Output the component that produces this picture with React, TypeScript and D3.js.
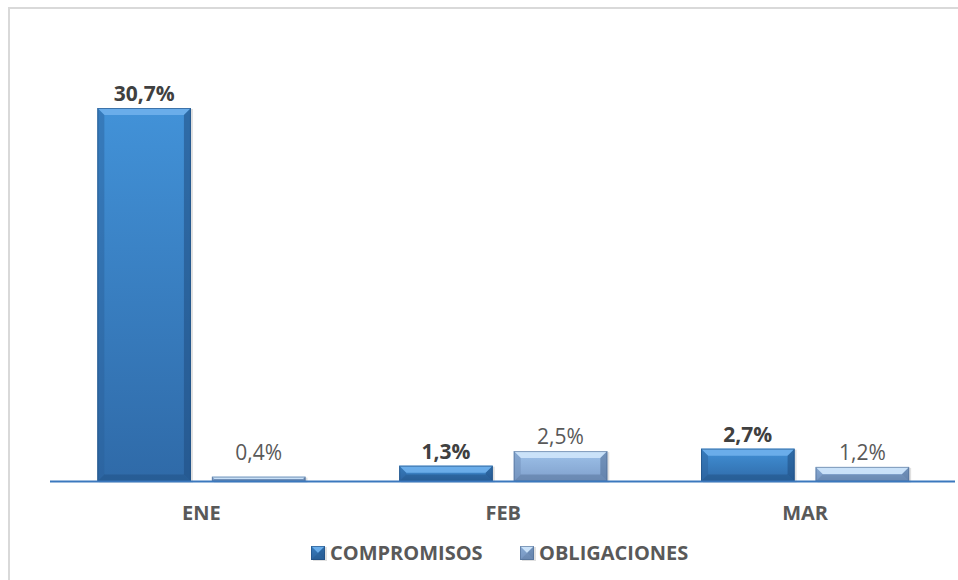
import * as d3 from 'd3';

// chart data
const months = ['ENE', 'FEB', 'MAR'];
const seriesNames = ['COMPROMISOS', 'OBLIGACIONES'];
const compromisos = [30.7, 1.3, 2.7];
const obligaciones = [0.4, 2.5, 1.2];
const labelsCompromisos = ['30,7%', '1,3%', '2,7%'];
const labelsObligaciones = ['0,4%', '2,5%', '1,2%'];

const W = 958;
const H = 580;
const FONT = '"Open Sans", "Liberation Sans", sans-serif';

// colours per series
const palette = [
    { hi: '#6fb0ec', top: '#4292d8', bottom: '#2f6aa8', side: '#2a5f98', low: '#1f4d7f' },
    { hi: '#cfe6fb', top: '#9ec2ea', bottom: '#7f9fcb', side: '#6a8ab4', low: '#4f6c93' },
];

const App = () => {
    const baseline = 481.5;
    const x0 = d3.scaleBand<string>()
        .domain(months)
        .range([50.5, 956]);

    const x1 = d3.scaleBand<string>()
        .domain(seriesNames)
        .range([0, x0.bandwidth()])
        .paddingInner(0.183)
        .paddingOuter(0.409);

    const y = d3.scaleLinear()
        .domain([0, 30.7])
        .range([baseline, 108]);

    const rows = months.map((m, i) => ({
        month: m,
        values: [
            { key: seriesNames[0], val: compromisos[i], label: labelsCompromisos[i], s: 0 },
            { key: seriesNames[1], val: obligaciones[i], label: labelsObligaciones[i], s: 1 },
        ],
    }));

    // draws a bar with a bevel like excel does
    const bevelBar = (bx: number, by: number, bw: number, bh: number, s: number, id: string) => {
        const p = palette[s];
        const b = Math.min(7, bh / 2);
        const x2 = bx + bw;
        const y2 = by + bh;
        return (
            <g key={id}>
                <rect x={bx + 2} y={by + 1} width={bw} height={bh} fill="#000" opacity={0.12} />
                <rect x={bx} y={by} width={bw} height={bh} fill={`url(#face${s})`} />
                <polygon points={`${bx},${by} ${x2},${by} ${x2 - b},${by + b} ${bx + b},${by + b}`} fill={p.hi} opacity={0.9} />
                <polygon points={`${bx},${by} ${bx + b},${by + b} ${bx + b},${y2 - b} ${bx},${y2}`} fill={p.side} opacity={0.45} />
                <polygon points={`${x2},${by} ${x2 - b},${by + b} ${x2 - b},${y2 - b} ${x2},${y2}`} fill={p.low} opacity={0.55} />
                <polygon points={`${bx},${y2} ${bx + b},${y2 - b} ${x2 - b},${y2 - b} ${x2},${y2}`} fill={p.low} opacity={0.45} />
                <rect x={bx + 0.5} y={by + 0.5} width={bw - 1} height={bh - 1} fill="none" stroke={p.low} strokeWidth={1} opacity={0.6} />
            </g>
        );
    };

    const legendX = [311, 520];

    return (
        <svg width={W} height={H} style={{ position: 'absolute', left: 0, top: 0, background: 'white' }}>
            <defs>
                {palette.map((p, s) => (
                    <linearGradient key={s} id={`face${s}`} x1="0" y1="0" x2="0" y2="1">
                        <stop offset="0%" stopColor={p.top} />
                        <stop offset="100%" stopColor={p.bottom} />
                    </linearGradient>
                ))}
            </defs>

            {/* chart area border */}
            <rect x={9} y={8} width={W + 10} height={H + 10} fill="white" stroke="#d9d9d9" strokeWidth={2} />

            {rows.map(r => (
                <g key={r.month} transform={`translate(${x0(r.month)},0)`}>
                    {r.values.map(v => {
                        const bx = x1(v.key) as number;
                        const by = y(v.val);
                        return bevelBar(bx, by, x1.bandwidth(), baseline - by, v.s, r.month + v.key);
                    })}
                </g>
            ))}

            {/* axis line */}
            <line x1={50} x2={955} y1={baseline} y2={baseline} stroke="#3b78be" strokeWidth={2} />

            {/* value labels */}
            {rows.map(r => r.values.map(v => {
                const cx = (x0(r.month) as number) + (x1(v.key) as number) + x1.bandwidth() / 2;
                const ly = Math.min(y(v.val) - 7, baseline - 22);
                return (
                    <text key={r.month + v.key + 'lbl'} x={cx} y={ly} textAnchor="middle"
                        fontFamily={FONT} fontSize={21} fontWeight={v.s === 0 ? 700 : 400}
                        fill={v.s === 0 ? '#404040' : '#595959'}>
                        {v.label}
                    </text>
                );
            }))}

            {/* category labels */}
            {months.map(m => (
                <text key={m} x={(x0(m) as number) + x0.bandwidth() / 2} y={520} textAnchor="middle"
                    fontFamily={FONT} fontSize={20} fontWeight={700} fill="#595959">
                    {m}
                </text>
            ))}

            {/* legend */}
            {seriesNames.map((n, s) => (
                <g key={n} transform={`translate(${legendX[s]},546)`}>
                    {bevelBar(0, 0, 14, 14, s, 'leg' + n)}
                    <text x={19} y={14} fontFamily={FONT} fontSize={20} fontWeight={700} fill="#595959">{n}</text>
                </g>
            ))}
        </svg>
    );
};

export default App;
